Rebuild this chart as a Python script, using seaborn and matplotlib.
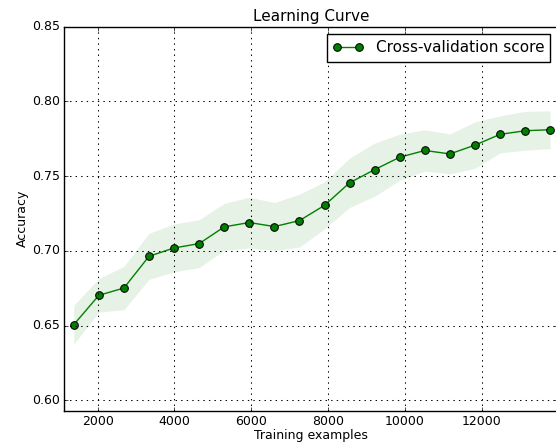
import numpy as np
import matplotlib
matplotlib.use("Agg")
import matplotlib.pyplot as plt
import seaborn as sns

# training sizes and cross-validation scores
train_sizes = [1378, 2031, 2684, 3336, 3989, 4642, 5295, 5948, 6601, 7254,
               7907, 8559, 9212, 9865, 10518, 11171, 11824, 12477, 13130, 13780]
test_mean = [0.6507, 0.6703, 0.6752, 0.6964, 0.7020, 0.7049, 0.7161, 0.7190, 0.7163, 0.7203,
             0.7305, 0.7456, 0.7544, 0.7627, 0.7672, 0.7649, 0.7708, 0.7780, 0.7804, 0.7811]
test_std = [0.0130, 0.0112, 0.0145, 0.0154, 0.0160, 0.0160, 0.0157, 0.0170, 0.0160, 0.0177,
            0.0157, 0.0165, 0.0178, 0.0154, 0.0138, 0.0134, 0.0155, 0.0124, 0.0130, 0.0126]
line_label = "Cross-validation score"
title = "Learning Curve"
x_label = "Training examples"
y_label = "Accuracy"

plt.style.use("classic")
plt.rcParams["font.family"] = ["DejaVu Sans"]
plt.rcParams["font.size"] = 9
plt.rcParams["xtick.major.size"] = 3
plt.rcParams["ytick.major.size"] = 3
plt.rcParams["xtick.major.pad"] = 3
plt.rcParams["ytick.major.pad"] = 3

f = plt.figure(figsize=(5.56, 4.46), dpi=100)
f.patch.set_facecolor("white")
# right edge of the axes runs just past the figure, as in the reference
ax = f.add_axes([0.1151, 0.0791, 0.8885, 0.861])

mean = np.array(test_mean)
std = np.array(test_std)
ax.fill_between(train_sizes, mean - std, mean + std, alpha=0.1, color="g", linewidth=0)
sns.lineplot(x=train_sizes, y=test_mean, ax=ax, color="g", marker="o", markersize=5.5,
             markeredgecolor="k", markeredgewidth=0.75, linewidth=1.0, label=line_label,
             legend=False)

ax.set_xlim(1123, 13985)
ax.set_ylim(0.5931, 0.85)
ax.set_yticks([0.60, 0.65, 0.70, 0.75, 0.80, 0.85])
ax.set_xticks([2000, 4000, 6000, 8000, 10000, 12000])
ax.grid(True, color="k", linestyle=":", linewidth=0.75)
ax.set_title(title, fontsize=11, pad=4)
ax.set_xlabel(x_label, fontsize=9, labelpad=1)
ax.set_ylabel(y_label, fontsize=9, labelpad=2)
for s in ax.spines.values():
    s.set_linewidth(1.0)

ax.legend(loc="upper right", fontsize=11, numpoints=2, fancybox=False,
          borderaxespad=0.5, handlelength=2.0)

f.savefig("out.png", dpi=100, facecolor="white")
